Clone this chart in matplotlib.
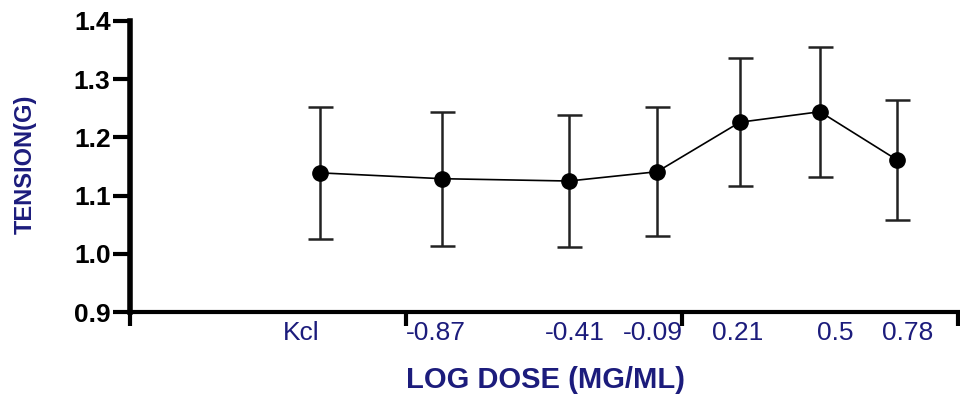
from matplotlib import pyplot as plt

# log dose (Kcl placed at its own position on the axis)
dose = [-1.31, -0.87, -0.41, -0.09, 0.21, 0.5, 0.78]
dose_labels = ['Kcl', '-0.87', '-0.41', '-0.09', '0.21', '0.5', '0.78']
tension = [1.139, 1.129, 1.125, 1.141, 1.226, 1.244, 1.161]
err = [0.113, 0.115, 0.113, 0.111, 0.110, 0.112, 0.103]

navy = '#1c1c7c'

plt.rcParams['font.family'] = ['Liberation Sans', 'DejaVu Sans']

fig = plt.figure(figsize=(9.6, 3.94), dpi=100)
ax = fig.add_axes([0.1354, 0.208, 0.8625, 0.739])

ax.errorbar(dose, tension, yerr=err, color='black', lw=1.2, marker='o',
            ms=11, elinewidth=1.8, ecolor='#222222', capsize=9, capthick=1.8)

ax.set_xlim(-2, 1)
ax.set_ylim(0.9, 1.4)
ax.set_yticks([0.9, 1.0, 1.1, 1.2, 1.3, 1.4])
ax.set_yticklabels(['0.9', '1.0', '1.1', '1.2', '1.3', '1.4'],
                   fontsize=19, fontweight='bold')
ax.set_xticks([-2, -1, 0, 1])
ax.set_xticklabels([])
ax.tick_params(axis='x', direction='out', length=10, width=3)
ax.tick_params(axis='y', direction='out', length=12, width=3, pad=2)

# dose labels under the axis, slightly offset as in the original
offsets = [-19, -6, 6, -4, -2, 15, 10]
for x, lab, dx in zip(dose, dose_labels, offsets):
    ax.annotate(lab, xy=(x, 0.9), xycoords='data', xytext=(dx, -9),
                textcoords='offset pixels', ha='center', va='top',
                fontsize=19, color=navy)

for side in ['top', 'right']:
    ax.spines[side].set_visible(False)
ax.spines['left'].set_linewidth(4)
ax.spines['bottom'].set_linewidth(3)

fig.text(25 / 960, 1 - 164 / 394, 'TENSION(G)', fontsize=17,
         fontweight='bold', color=navy, rotation=90,
         ha='center', va='center')
fig.text(545 / 960, 1 - 380 / 394, 'LOG DOSE (MG/ML)', fontsize=21,
         fontweight='bold', color=navy, ha='center', va='center')

fig.savefig('out.png', dpi=100)
